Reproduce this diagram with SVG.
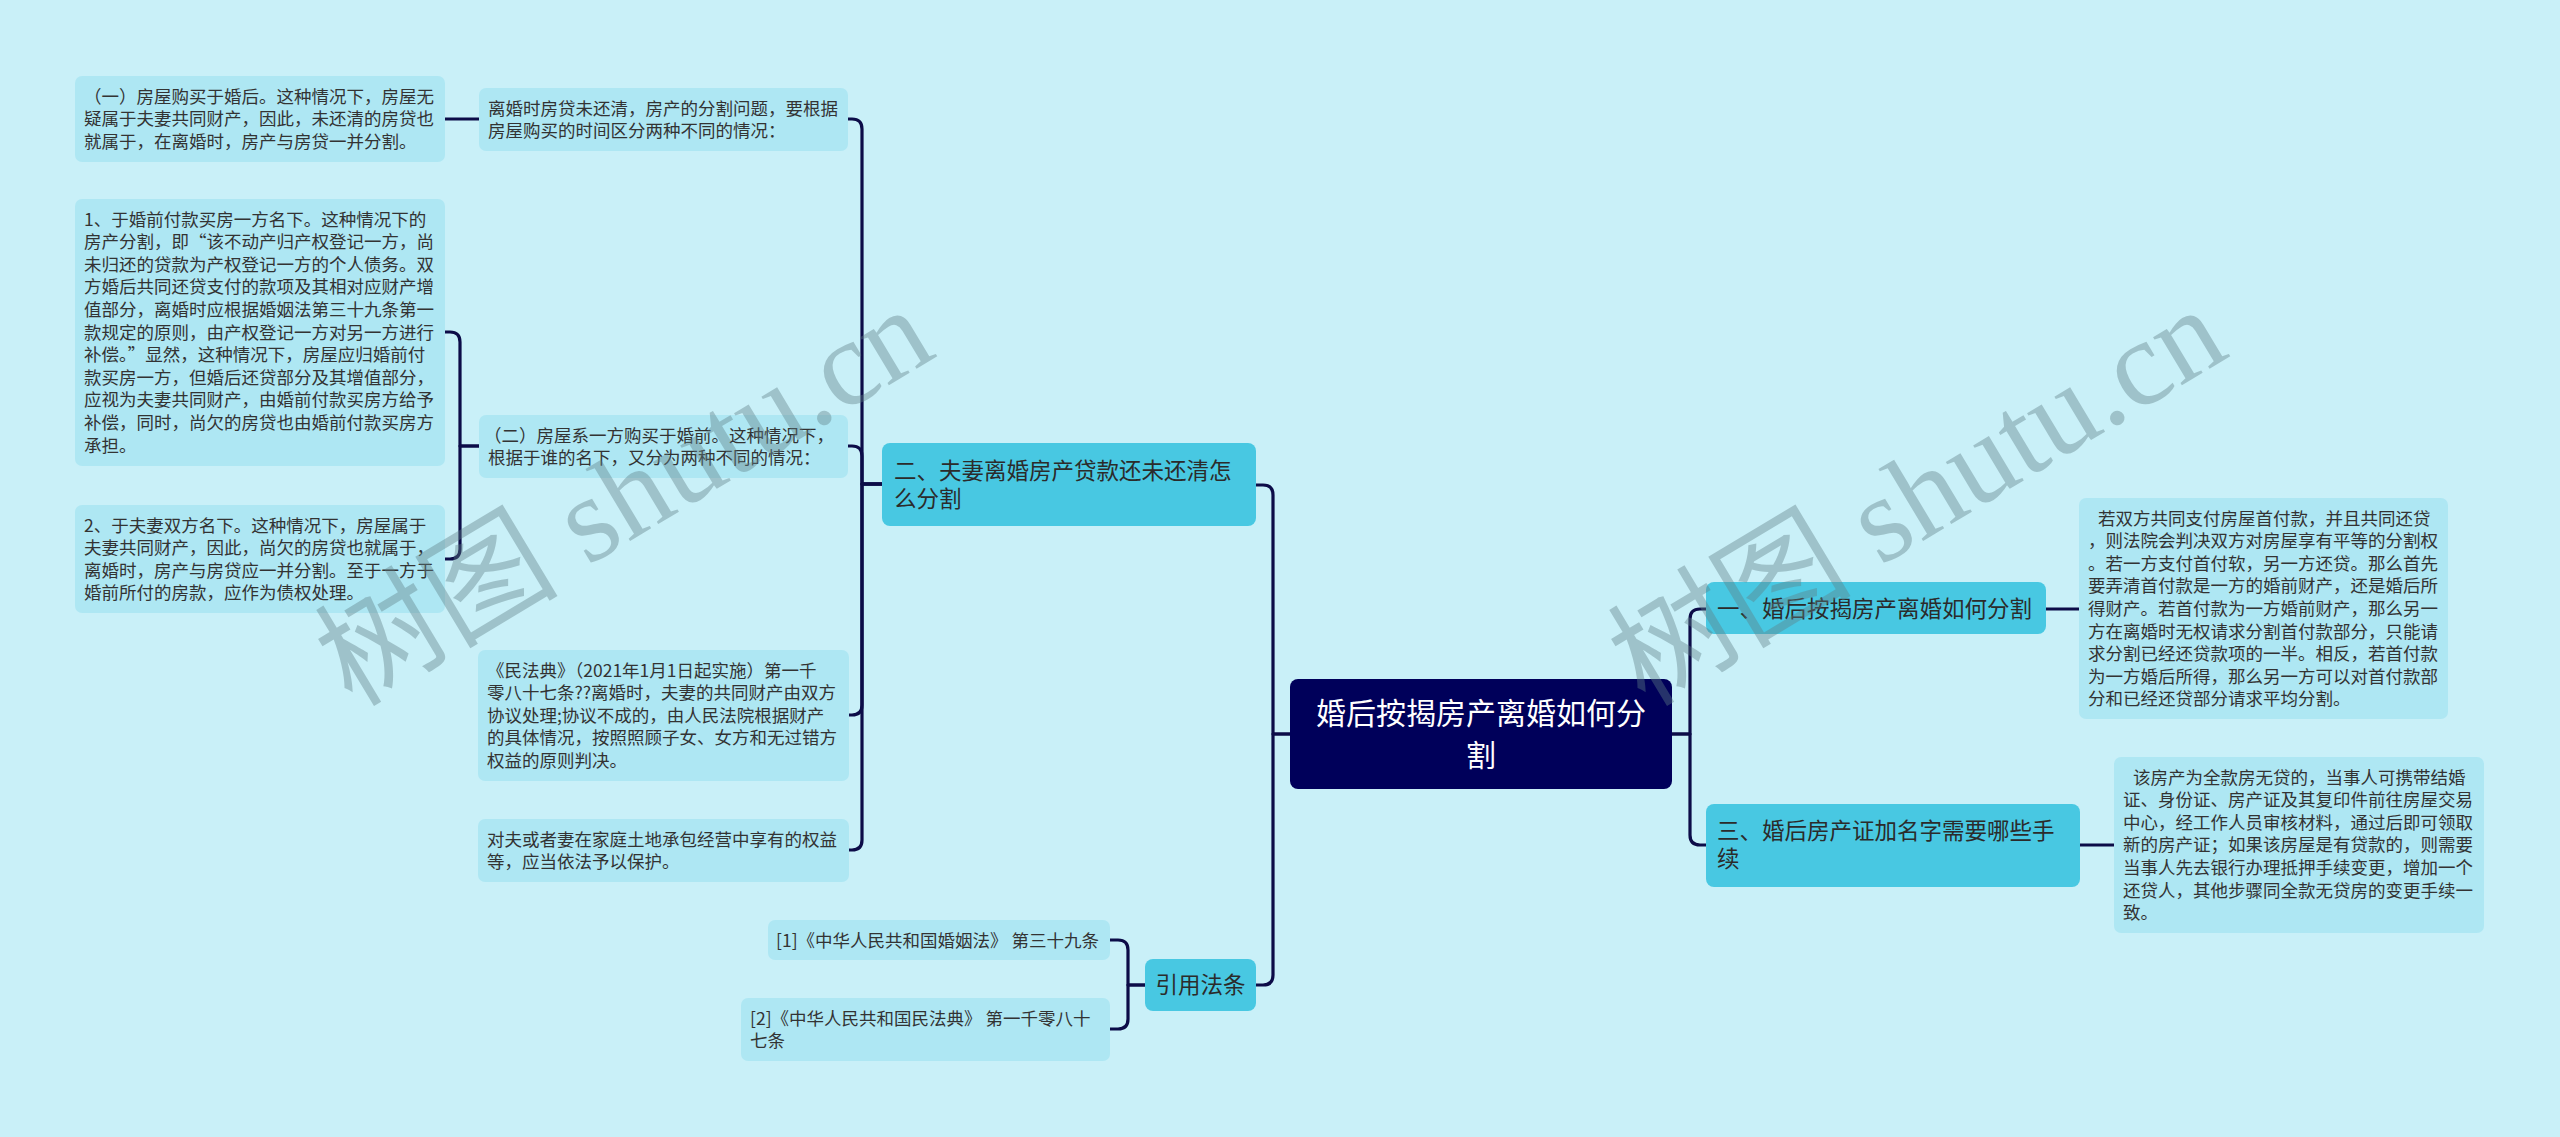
<svg xmlns="http://www.w3.org/2000/svg" width="2560" height="1137" viewBox="0 0 2560 1137">
<style>
.bg{fill:#c9f0f8}
.leaf{fill:#aee7f3}
.branch{fill:#48c8e2}
.root{fill:#00005a}
.lnk path{fill:none;stroke:#0c0c48;stroke-width:3.2;stroke-linejoin:round;stroke-linecap:round}
text{font-family:"Noto Sans CJK SC","Noto Sans",sans-serif}
.t{font-size:17.5px;fill:#333333}
.bt{font-size:22.5px;fill:#2b2b2b}
.rt{font-size:30px;fill:#ffffff;text-anchor:middle}
.wm{font-family:"Liberation Serif","Noto Sans CJK SC",serif;font-size:122px;fill:#5f7f86;opacity:0.4}
</style>
<rect class="bg" x="0" y="0" width="2560" height="1137"/>

<g id="connectors" class="lnk">
<path d="M1290,734 H1273 V495 Q1273,485 1263,485 H1256"/>
<path d="M1290,734 H1273 V975 Q1273,985 1263,985 H1256"/>
<path d="M1672,734 H1690 V619 Q1690,609 1700,609 H1706"/>
<path d="M1672,734 H1690 V835 Q1690,845 1700,845 H1706"/>
<path d="M882,484 H862 V129 Q862,119 852,119 H848"/>
<path d="M882,484 H862 V456 Q862,446 852,446 H848"/>
<path d="M882,484 H862 V705 Q862,715 852,715 H849"/>
<path d="M882,484 H862 V840 Q862,850 852,850 H849"/>
<path d="M479,119 H445"/>
<path d="M479,446 H460 V342 Q460,332 450,332 H445"/>
<path d="M479,446 H460 V549 Q460,559 450,559 H445"/>
<path d="M1145,985 H1128 V950 Q1128,940 1118,940 H1110"/>
<path d="M1145,985 H1128 V1019 Q1128,1029 1118,1029 H1110"/>
<path d="M2046,609 H2079"/>
<path d="M2080,845 H2114"/>
</g>

<g id="root">
<rect class="root" x="1290" y="679" width="382" height="110" rx="8"/>
<text class="rt" x="1481" y="724">婚后按揭房产离婚如何分</text>
<text class="rt" x="1481" y="766">割</text>
</g>

<g id="branch-2">
<rect class="branch" x="882" y="443" width="374" height="83" rx="8"/>
<text class="bt" x="894" y="478.5">二、夫妻离婚房产贷款还未还清怎</text>
<text class="bt" x="894" y="506.5">么分割</text>
</g>

<g id="branch-1">
<rect class="branch" x="1706" y="582" width="340" height="52" rx="8"/>
<text class="bt" x="1717" y="617">一、婚后按揭房产离婚如何分割</text>
</g>

<g id="branch-3">
<rect class="branch" x="1706" y="804" width="374" height="83" rx="8"/>
<text class="bt" x="1717" y="839">三、婚后房产证加名字需要哪些手</text>
<text class="bt" x="1717" y="867">续</text>
</g>

<g id="branch-law">
<rect class="branch" x="1145" y="959" width="111" height="52" rx="8"/>
<text class="bt" x="1200.5" y="993" text-anchor="middle">引用法条</text>
</g>

<g id="leaf-m1">
<rect class="leaf" x="479" y="88" width="369" height="63" rx="7"/>
<text class="t" x="488" y="114.6">离婚时房贷未还清，房产的分割问题，要根据</text>
<text class="t" x="488" y="137.2">房屋购买的时间区分两种不同的情况：</text>
</g>

<g id="leaf-l1">
<rect class="leaf" x="75" y="76" width="370" height="86" rx="7"/>
<text class="t" x="84" y="102.6">（一）房屋购买于婚后。这种情况下，房屋无</text>
<text class="t" x="84" y="125.2">疑属于夫妻共同财产，因此，未还清的房贷也</text>
<text class="t" x="84" y="147.8">就属于，在离婚时，房产与房贷一并分割。</text>
</g>

<g id="leaf-m2">
<rect class="leaf" x="479" y="415" width="369" height="63" rx="7"/>
<text class="t" x="484" y="441.6">（二）房屋系一方购买于婚前。这种情况下，</text>
<text class="t" x="488" y="464.2">根据于谁的名下，又分为两种不同的情况：</text>
</g>

<g id="leaf-l2">
<rect class="leaf" x="75" y="199" width="370" height="267" rx="7"/>
<text class="t" x="84" y="225.6">1、于婚前付款买房一方名下。这种情况下的</text>
<text class="t" x="84" y="248.2">房产分割，即“该不动产归产权登记一方，尚</text>
<text class="t" x="84" y="270.8">未归还的贷款为产权登记一方的个人债务。双</text>
<text class="t" x="84" y="293.4">方婚后共同还贷支付的款项及其相对应财产增</text>
<text class="t" x="84" y="316">值部分，离婚时应根据婚姻法第三十九条第一</text>
<text class="t" x="84" y="338.6">款规定的原则，由产权登记一方对另一方进行</text>
<text class="t" x="84" y="361.2">补偿。”显然，这种情况下，房屋应归婚前付</text>
<text class="t" x="84" y="383.8">款买房一方，但婚后还贷部分及其增值部分，</text>
<text class="t" x="84" y="406.4">应视为夫妻共同财产，由婚前付款买房方给予</text>
<text class="t" x="84" y="429">补偿，同时，尚欠的房贷也由婚前付款买房方</text>
<text class="t" x="84" y="451.6">承担。</text>
</g>

<g id="leaf-l3">
<rect class="leaf" x="75" y="505" width="370" height="108" rx="7"/>
<text class="t" x="84" y="531.6">2、于夫妻双方名下。这种情况下，房屋属于</text>
<text class="t" x="84" y="554.2">夫妻共同财产，因此，尚欠的房贷也就属于，</text>
<text class="t" x="84" y="576.8">离婚时，房产与房贷应一并分割。至于一方于</text>
<text class="t" x="84" y="599.4">婚前所付的房款，应作为债权处理。</text>
</g>

<g id="leaf-m3">
<rect class="leaf" x="478" y="650" width="371" height="131" rx="7"/>
<text class="t" x="487" y="676.6">《民法典》（2021年1月1日起实施）第一千</text>
<text class="t" x="487" y="699.2">零八十七条??离婚时，夫妻的共同财产由双方</text>
<text class="t" x="487" y="721.8">协议处理;协议不成的，由人民法院根据财产</text>
<text class="t" x="487" y="744.4">的具体情况，按照照顾子女、女方和无过错方</text>
<text class="t" x="487" y="767">权益的原则判决。</text>
</g>

<g id="leaf-m4">
<rect class="leaf" x="478" y="819" width="371" height="63" rx="7"/>
<text class="t" x="487" y="845.6">对夫或者妻在家庭土地承包经营中享有的权益</text>
<text class="t" x="487" y="868.2">等，应当依法予以保护。</text>
</g>

<g id="leaf-c1">
<rect class="leaf" x="768" y="920" width="342" height="40" rx="7"/>
<text class="t" x="776" y="947">[1]《中华人民共和国婚姻法》 第三十九条</text>
</g>

<g id="leaf-c2">
<rect class="leaf" x="741" y="998" width="369" height="63" rx="7"/>
<text class="t" x="750" y="1024.6">[2]《中华人民共和国民法典》 第一千零八十</text>
<text class="t" x="750" y="1047.2">七条</text>
</g>

<g id="leaf-r1">
<rect class="leaf" x="2079" y="498" width="369" height="221" rx="7"/>
<text class="t" x="2098" y="524.6">若双方共同支付房屋首付款，并且共同还贷</text>
<text class="t" x="2088" y="547.2">，则法院会判决双方对房屋享有平等的分割权</text>
<text class="t" x="2088" y="569.8">。若一方支付首付软，另一方还贷。那么首先</text>
<text class="t" x="2088" y="592.4">要弄清首付款是一方的婚前财产，还是婚后所</text>
<text class="t" x="2088" y="615">得财产。若首付款为一方婚前财产，那么另一</text>
<text class="t" x="2088" y="637.6">方在离婚时无权请求分割首付款部分，只能请</text>
<text class="t" x="2088" y="660.2">求分割已经还贷款项的一半。相反，若首付款</text>
<text class="t" x="2088" y="682.8">为一方婚后所得，那么另一方可以对首付款部</text>
<text class="t" x="2088" y="705.4">分和已经还贷部分请求平均分割。</text>
</g>

<g id="leaf-r2">
<rect class="leaf" x="2114" y="757" width="370" height="176" rx="7"/>
<text class="t" x="2133" y="783.6">该房产为全款房无贷的，当事人可携带结婚</text>
<text class="t" x="2123" y="806.2">证、身份证、房产证及其复印件前往房屋交易</text>
<text class="t" x="2123" y="828.8">中心，经工作人员审核材料，通过后即可领取</text>
<text class="t" x="2123" y="851.4">新的房产证；如果该房屋是有贷款的，则需要</text>
<text class="t" x="2123" y="874">当事人先去银行办理抵押手续变更，增加一个</text>
<text class="t" x="2123" y="896.6">还贷人，其他步骤同全款无贷房的变更手续一</text>
<text class="t" x="2123" y="919.2">致。</text>
</g>

<g id="watermark">
<text class="wm" x="352" y="708" transform="rotate(-31 352 708)">树图 shutu.cn</text>
<text class="wm" x="1645" y="708" transform="rotate(-31 1645 708)">树图 shutu.cn</text>
</g>
</svg>
